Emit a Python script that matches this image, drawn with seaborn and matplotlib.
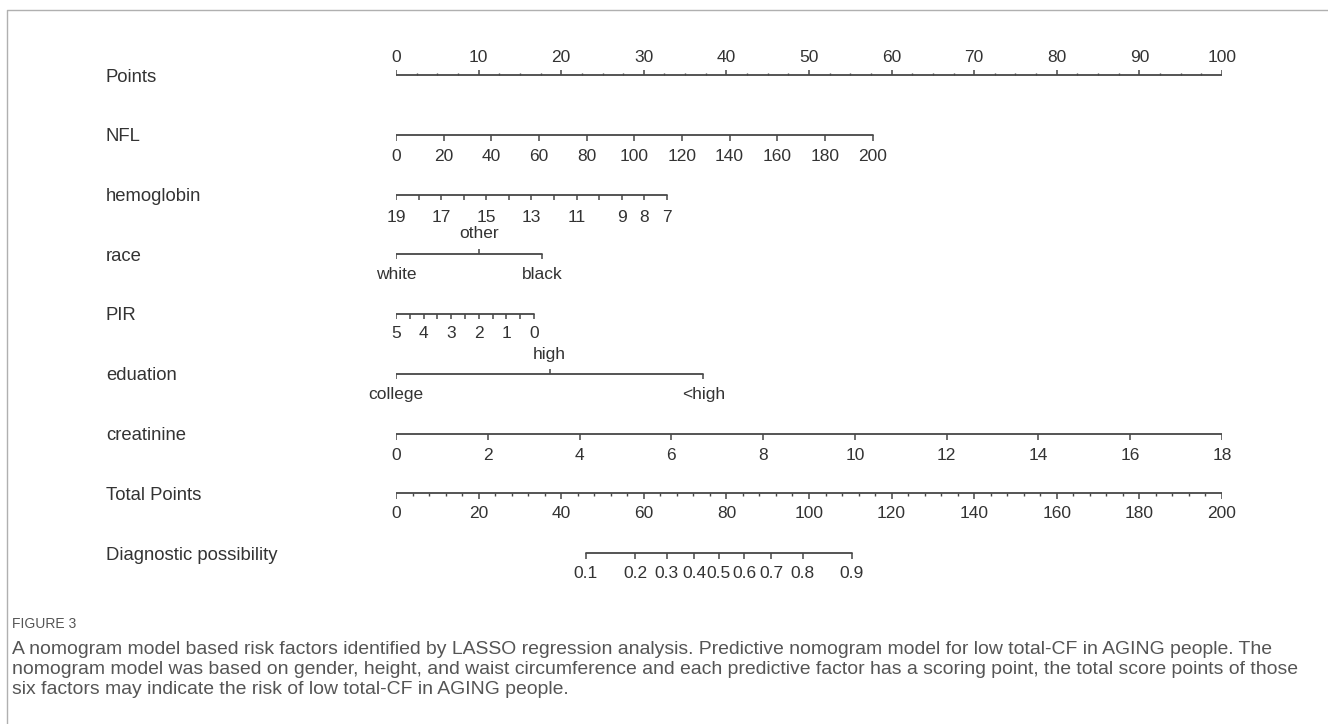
import numpy as np
import pandas as pd
import matplotlib
matplotlib.use("Agg")
import matplotlib.pyplot as plt
from matplotlib import font_manager
from matplotlib.lines import Line2D
import seaborn as sns

# ---------------- data ----------------
row_labels = ["Points", "NFL", "hemoglobin", "race", "PIR", "eduation",
              "creatinine", "Total Points", "Diagnostic possibility"]

points_major = [0, 10, 20, 30, 40, 50, 60, 70, 80, 90, 100]
points_minor_step = 2.5

nfl_ticks = [0, 20, 40, 60, 80, 100, 120, 140, 160, 180, 200]
nfl_value_range = [0, 200]
nfl_point_range = [0, 57.7]

hgb_ticks = [19, 18, 17, 16, 15, 14, 13, 12, 11, 10, 9, 8, 7]
hgb_labels = ["19", "", "17", "", "15", "", "13", "", "11", "", "9", "8", "7"]
hgb_value_range = [19, 7]
hgb_point_range = [0, 32.8]

race_levels = ["white", "other", "black"]
race_points = [0, 10.0, 17.7]
race_label_side = ["below", "above", "below"]

pir_ticks = [5, 4.5, 4, 3.5, 3, 2.5, 2, 1.5, 1, 0.5, 0]
pir_labels = ["5", "", "4", "", "3", "", "2", "", "1", "", "0"]
pir_value_range = [5, 0]
pir_point_range = [0, 16.7]

edu_levels = ["college", "high", "<high"]
edu_points = [0, 18.6, 37.2]
edu_label_side = ["below", "above", "below"]

creat_ticks = [0, 2, 4, 6, 8, 10, 12, 14, 16, 18]
creat_value_range = [0, 18]
creat_point_range = [0, 100]

total_major = [0, 20, 40, 60, 80, 100, 120, 140, 160, 180, 200]
total_minor_step = 4
total_value_range = [0, 200]

diag_probs = [0.1, 0.2, 0.3, 0.4, 0.5, 0.6, 0.7, 0.8, 0.9]
diag_total_points = [46.0, 57.9, 65.6, 72.2, 78.2, 84.3, 90.8, 98.5, 110.4]

caption_title = "FIGURE 3"
caption_lines = [
    "A nomogram model based risk factors identified by LASSO regression analysis. Predictive nomogram model for low total-CF in AGING people. The",
    "nomogram model was based on gender, height, and waist circumference and each predictive factor has a scoring point, the total score points of those",
    "six factors may indicate the risk of low total-CF in AGING people.",
]

# ---------------- style ----------------
sns.set_theme(style="white")
plt.rcParams["font.family"] = ["Liberation Sans", "DejaVu Sans"]

LINE = "#474747"
TXT = "#333333"
TICK_FS = 12.5
W, H = 1328, 724
DPI = 100
fig = plt.figure(figsize=(W / DPI, H / DPI), dpi=DPI)

x0_px, x1_px = 396, 1222
row0_px, rowstep_px = 75, 59.75
top_px = row0_px - 0.5 * rowstep_px
bot_px = row0_px + 8.5 * rowstep_px
ax = fig.add_axes([x0_px / W, 1 - bot_px / H, (x1_px - x0_px) / W, (bot_px - top_px) / H])
ax.set_xlim(0, 100)
ax.set_ylim(8.5, -0.5)
ax.axis("off")

u = 1.0 / rowstep_px  # data units per pixel vertically


def scale(v, vr, pr):
    v = np.asarray(v, dtype=float)
    return pr[0] + (v - vr[0]) * (pr[1] - pr[0]) / (vr[1] - vr[0])


segs = []


def draw_axis(row, pos, labels, major_len=6, minor_pos=None, minor_len=3,
              up=False, label_off=21):
    pos = np.asarray(pos, dtype=float)
    lo, hi = pos.min(), pos.max()
    segs.append(pd.DataFrame({"pts": [lo, hi], "row": [row, row], "seg": [row, row]}))
    sgn = -1 if up else 1
    ax.vlines(pos, row, row + sgn * major_len * u, color=LINE, lw=1.1)
    if minor_pos is not None:
        ax.vlines(minor_pos, row, row + sgn * minor_len * u, color=LINE, lw=1.0)
    for p, lab in zip(pos, labels):
        if not lab:
            continue
        y = row - 18 * u if up else row + label_off * u
        ax.text(p, y, lab, ha="center", va="center", fontsize=TICK_FS, color=TXT)


def draw_categorical(row, pos, levels, sides, above_off=20, below_off=20):
    pos = np.asarray(pos, dtype=float)
    segs.append(pd.DataFrame({"pts": [pos.min(), pos.max()], "row": [row, row], "seg": [row, row]}))
    for p, lab, side in zip(pos, levels, sides):
        if side == "above":
            ax.vlines(p, row, row - 5 * u, color=LINE, lw=1.1)
            ax.text(p, row - above_off * u, lab, ha="center", va="center",
                    fontsize=TICK_FS, color=TXT)
        else:
            ax.vlines(p, row, row + 5 * u, color=LINE, lw=1.1)
            ax.text(p, row + below_off * u, lab, ha="center", va="center",
                    fontsize=TICK_FS, color=TXT)


# Points
pm = np.array(points_major, dtype=float)
pminor = np.arange(0, 100 + 1e-9, points_minor_step)
pminor = pminor[~np.isin(pminor, pm)]
draw_axis(0, pm, [str(v) for v in points_major], major_len=5, minor_pos=pminor,
          minor_len=2, up=True)

# NFL
draw_axis(1, scale(nfl_ticks, nfl_value_range, nfl_point_range),
          [str(v) for v in nfl_ticks], label_off=22)

# hemoglobin
draw_axis(2, scale(hgb_ticks, hgb_value_range, hgb_point_range), hgb_labels,
          major_len=5, label_off=23)

# race
draw_categorical(3, race_points, race_levels, race_label_side, above_off=21, below_off=20)

# PIR
draw_axis(4, scale(pir_ticks, pir_value_range, pir_point_range), pir_labels,
          major_len=5, label_off=20)

# education
draw_categorical(5, edu_points, edu_levels, edu_label_side, above_off=19, below_off=21)

# creatinine
draw_axis(6, scale(creat_ticks, creat_value_range, creat_point_range),
          [str(v) for v in creat_ticks], label_off=22)

# Total Points
tm = scale(total_major, total_value_range, [0, 100])
tminor_v = np.arange(0, 200 + 1e-9, total_minor_step)
tminor_v = tminor_v[~np.isin(tminor_v, total_major)]
draw_axis(7, tm, [str(v) for v in total_major], major_len=6,
          minor_pos=scale(tminor_v, total_value_range, [0, 100]), minor_len=3,
          label_off=20)

# Diagnostic possibility
draw_axis(8, scale(diag_total_points, total_value_range, [0, 100]),
          [f"{v:g}" for v in diag_probs], major_len=6, label_off=20)

# main axis lines via seaborn
seg_df = pd.concat(segs, ignore_index=True)
sns.lineplot(data=seg_df, x="pts", y="row", units="seg", estimator=None,
             sort=False, color=LINE, lw=1.3, ax=ax, legend=False)
ax.set_xlim(0, 100)
ax.set_ylim(8.5, -0.5)
ax.axis("off")

# row labels
for i, lab in enumerate(row_labels):
    ypx = row0_px + i * rowstep_px + 2
    fig.text(106 / W, 1 - ypx / H, lab, ha="left", va="center", fontsize=13.3, color=TXT)

# ---------------- frame and caption ----------------
fig.add_artist(Line2D([7 / W, 7 / W, 1.0], [0.0, 1 - 10 / H, 1 - 10 / H],
                      transform=fig.transFigure, color="#b0b0b0", lw=1.0))

names = {f.name for f in font_manager.fontManager.ttflist}
cap_font = "Liberation Sans Narrow" if "Liberation Sans Narrow" in names else "Liberation Sans"

fig.text(12 / W, 1 - 624 / H, caption_title, ha="left", va="center",
         fontsize=10, color="#555555", weight="medium", family=[cap_font, "DejaVu Sans"])

renderer = fig.canvas.get_renderer()
probe = fig.text(0, 0, caption_lines[1], fontsize=12, family=[cap_font, "DejaVu Sans"])
wpx = probe.get_window_extent(renderer=renderer).width
probe.remove()
cap_fs = 12 * 1290 / wpx
for k, line in enumerate(caption_lines):
    fig.text(12 / W, 1 - (649 + 20 * k) / H, line, ha="left", va="center",
             fontsize=cap_fs, color="#555555", family=[cap_font, "DejaVu Sans"])

fig.savefig("out.png", dpi=DPI, facecolor="white")
